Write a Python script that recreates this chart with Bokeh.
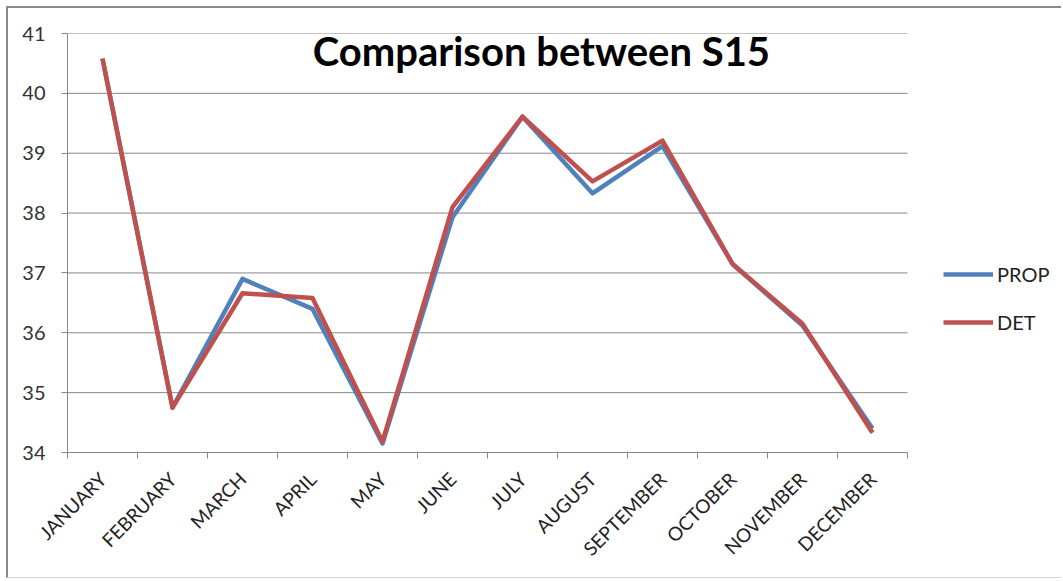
from bokeh.plotting import figure
from bokeh.models import Range1d, FixedTicker, Legend, LegendItem, Label
from bokeh.embed import file_html
from bokeh.resources import INLINE
import math

# Monthly values for the two series
months = ["JANUARY", "FEBRUARY", "MARCH", "APRIL", "MAY", "JUNE", "JULY",
          "AUGUST", "SEPTEMBER", "OCTOBER", "NOVEMBER", "DECEMBER"]
prop = [40.58, 34.75, 36.90, 36.40, 34.15, 37.93, 39.61,
        38.33, 39.12, 37.15, 36.12, 34.40]
det = [40.58, 34.75, 36.66, 36.58, 34.18, 38.10, 39.61,
       38.53, 39.21, 37.15, 36.15, 34.33]
y_ticks = [34, 35, 36, 37, 38, 39, 40, 41]
title_text = "Comparison between S15"
series_names = ["PROP", "DET"]

FONT = "Lato"
BLUE = "#4F81BD"
RED = "#C0504D"
GRID = "#878787"

n = len(months)
# category centres on a numeric axis, boundaries get the tick marks
xc = [i + 0.5 for i in range(n)]

# The frame runs on to the right edge so the legend can sit beside the
# plotted area; the category span keeps 840 of the 996 frame pixels.
x_end = n * 996 / 840

p = figure(width=1055, height=572, output_backend="svg", toolbar_location=None,
           x_range=Range1d(0, x_end),
           y_range=Range1d(y_ticks[0], y_ticks[-1]),
           min_border_left=59, min_border_right=0,
           min_border_top=25, min_border_bottom=128)
# chart area border
p.styles = {"margin-left": "6px", "margin-top": "6px",
            "border-left": "2px solid #8c8c8c",
            "border-top": "2px solid #8c8c8c",
            "border-bottom": "1px solid #d8d8d8"}
p.outline_line_color = None
p.background_fill_color = "white"
p.border_fill_color = "white"

# x axis: labels at centres, tick marks at category boundaries
p.xaxis.ticker = FixedTicker(ticks=xc, minor_ticks=list(range(n + 1)))
p.xaxis.bounds = (0, n)
p.xaxis.major_label_overrides = {c: m for c, m in zip(xc, months)}
p.xaxis.major_label_orientation = math.pi / 4
p.xaxis.major_tick_out = 0
p.xaxis.major_tick_in = 0
p.xaxis.minor_tick_out = 6
p.xaxis.minor_tick_in = 0
p.xaxis.minor_tick_line_color = GRID
p.xaxis.axis_line_color = GRID
p.xaxis.major_label_text_font = FONT
p.xaxis.major_label_text_font_size = "19px"
p.xaxis.major_label_text_color = "#222222"
p.xaxis.major_label_standoff = 17

# y axis
p.yaxis.ticker = FixedTicker(ticks=y_ticks)
p.yaxis.minor_tick_line_color = None
p.yaxis.major_tick_out = 6
p.yaxis.major_tick_in = 0
p.yaxis.major_tick_line_color = GRID
p.yaxis.axis_line_color = GRID
p.yaxis.major_label_text_font = FONT
p.yaxis.major_label_text_font_size = "20px"
p.yaxis.major_label_text_color = "#333333"
p.yaxis.major_label_standoff = 16

# horizontal gridlines across the category span only
p.xgrid.grid_line_color = None
p.ygrid.grid_line_color = None
p.segment(x0=[0] * len(y_ticks), x1=[n] * len(y_ticks), y0=y_ticks, y1=y_ticks,
          line_color=GRID, line_width=1)

r_prop = p.line(xc, prop, line_color=BLUE, line_width=4.5, line_join="round")
r_det = p.line(xc, det, line_color=RED, line_width=4.5, line_join="round")

legend = Legend(items=[LegendItem(label=series_names[0], renderers=[r_prop]),
                       LegendItem(label=series_names[1], renderers=[r_det])],
                location=(876, 118), margin=0, padding=10,
                glyph_width=50, glyph_height=20, label_height=20,
                spacing=24, label_standoff=4,
                label_text_font=FONT, label_text_font_size="20px",
                label_text_color="#222222",
                border_line_color=None, background_fill_alpha=0)
p.add_layout(legend)

p.add_layout(Label(x=6.77, y=40.71, text=title_text, text_align="center",
                   text_baseline="alphabetic", text_font=FONT,
                   text_font_style="bold", text_font_size="40px",
                   text_color="black"))

open("out.html", "w").write(file_html(p, INLINE))
